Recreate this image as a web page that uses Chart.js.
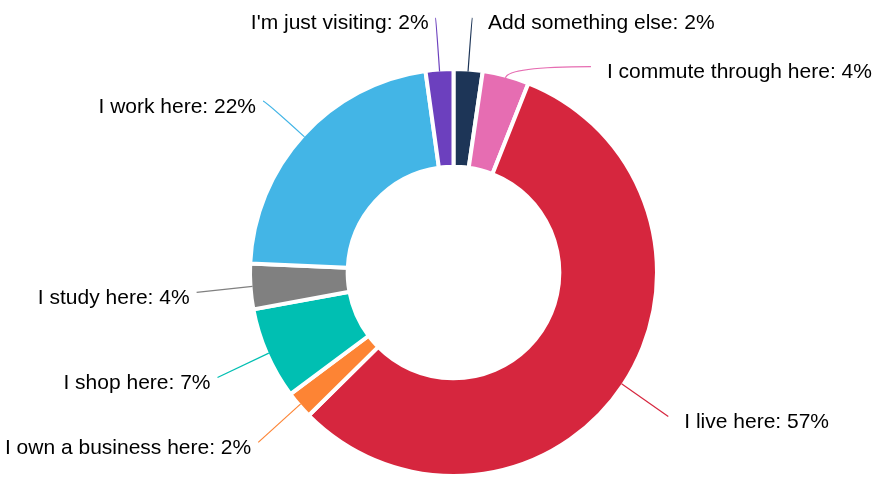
<!DOCTYPE html>
<html>
<head>
<meta charset="utf-8">
<script src="https://cdn.jsdelivr.net/npm/chart.js@4"></script>
<style>
  html, body { margin: 0; padding: 0; background: #fff; }
  #wrap { width: 874px; height: 479px; }
</style>
</head>
<body>
<div id="wrap"><canvas id="donut"></canvas></div>
<script>
const labels = [
  "Add something else",
  "I commute through here",
  "I live here",
  "I own a business here",
  "I shop here",
  "I study here",
  "I work here",
  "I'm just visiting",
];
const values = [2.3, 3.7, 56.6, 2.2, 7.3, 3.6, 22.1, 2.2];
const colors = [
  "#1d3557", "#e66db2", "#d6263e", "#fd8434",
  "#00bfb2", "#808080", "#43b5e6", "#6c40be",
];

// outside labels with bent leader lines
const outerLabels = {
  id: "outerLabels",
  afterDatasetsDraw(chart) {
    const ctx = chart.ctx;
    const arcs = chart.getDatasetMeta(0).data;
    const items = [];
    arcs.forEach((arc, i) => {
      const p = arc.getProps(["x", "y", "startAngle", "endAngle", "outerRadius"], true);
      const mid = (p.startAngle + p.endAngle) / 2;
      const R = p.outerRadius + 54;
      items.push({
        i, cx: p.x, cy: p.y, R,
        cos: Math.cos(mid), sin: Math.sin(mid),
        ax: p.x + (p.outerRadius - 2) * Math.cos(mid),
        ay: p.y + (p.outerRadius - 2) * Math.sin(mid),
        ey: p.y + R * Math.sin(mid) + 2,
        pushed: false,
        right: Math.cos(mid) >= 0,
      });
    });
    const minGap = 49;
    [true, false].forEach(side => {
      const list = items.filter(it => it.right === side).sort((a, b) => a.ey - b.ey);
      for (let k = 1; k < list.length; k++) {
        if (list[k].ey < list[k - 1].ey + minGap) {
          list[k].ey = list[k - 1].ey + minGap;
          list[k].pushed = true;
        }
      }
    });
    ctx.save();
    ctx.font = "21px 'Liberation Sans', Arial, sans-serif";
    ctx.textBaseline = "middle";
    items.forEach(it => {
      let dx = Math.abs(it.R * it.cos);
      if (it.pushed) {
        const dy = it.ey - it.cy;
        const Rx = it.R - 10;
        dx = Math.sqrt(Math.max(Rx * Rx - dy * dy, 0));
      }
      const ex = it.right ? it.cx + dx : it.cx - dx;
      let cpx = it.ax;
      if (Math.abs(it.sin) > 0.05) {
        const t = (it.ey - it.ay) / it.sin;
        if (t > 0) cpx = it.ax + t * it.cos;
      }
      cpx = it.right ? Math.min(Math.max(cpx, it.ax), ex) : Math.max(Math.min(cpx, it.ax), ex);
      ctx.strokeStyle = colors[it.i];
      ctx.lineWidth = 1.2;
      ctx.beginPath();
      ctx.moveTo(it.ax, it.ay);
      ctx.quadraticCurveTo(cpx, it.ey, ex, it.ey);
      ctx.stroke();
      ctx.fillStyle = "#000";
      ctx.textAlign = it.right ? "left" : "right";
      const text = labels[it.i] + ": " + Math.round(values[it.i]) + "%";
      ctx.fillText(text, it.right ? ex + 16 : ex - 7, it.ey + 6);
    });
    ctx.restore();
  },
};

new Chart(document.getElementById("donut"), {
  type: "doughnut",
  data: {
    labels,
    datasets: [{
      data: values,
      backgroundColor: colors,
      borderColor: "#fff",
      borderWidth: 4,
    }],
  },
  options: {
    responsive: true,
    maintainAspectRatio: false,
    animation: false,
    cutout: "52%",
    layout: { padding: { top: 67, bottom: 1, left: 233, right: 200 } },
    plugins: {
      legend: { display: false },
      tooltip: { enabled: false },
    },
  },
  plugins: [outerLabels],
});
</script>
</body>
</html>
